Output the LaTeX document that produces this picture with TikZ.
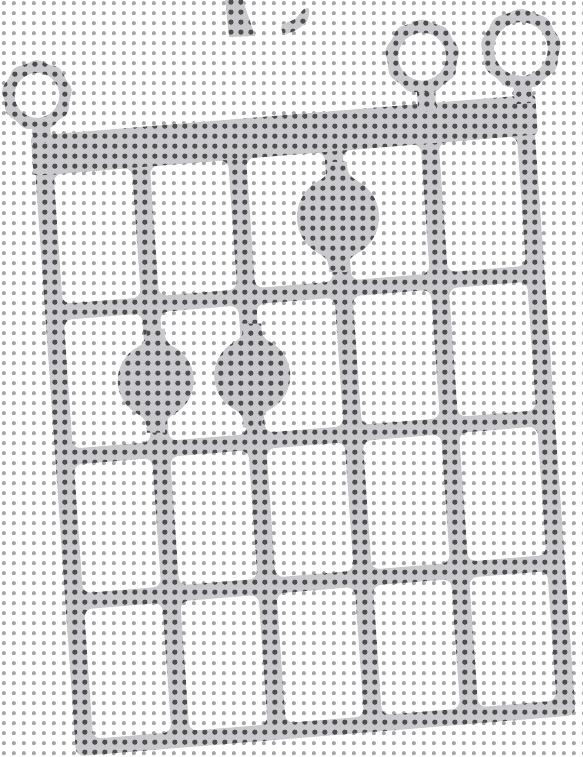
\documentclass[tikz,border=0pt]{standalone}
\usetikzlibrary{patterns}
\pgfdeclarepatternformonly{ltdots}{\pgfqpoint{0pt}{0pt}}{\pgfqpoint{10.3pt}{10.3pt}}{\pgfqpoint{10.3pt}{10.3pt}}{\pgfpathcircle{\pgfqpoint{5.15pt}{5.15pt}}{2.2pt}\pgfusepath{fill}}
\pgfdeclarepatternformonly{dkdots}{\pgfqpoint{0pt}{0pt}}{\pgfqpoint{10.3pt}{10.3pt}}{\pgfqpoint{10.3pt}{10.3pt}}{\pgfpathcircle{\pgfqpoint{5.15pt}{5.15pt}}{2.8pt}\pgfusepath{fill}}
\definecolor{ltdot}{RGB}{165,165,168}
\definecolor{bandc}{RGB}{201,201,205}
\definecolor{dkdot}{RGB}{78,78,80}
\tikzset{
  band/.style={preaction={fill=bandc}, pattern=dkdots, pattern color=dkdot},
  bandeo/.style={preaction={fill=bandc, even odd rule}, pattern=dkdots, pattern color=dkdot, even odd rule},
  pics/vase/.style={code={
    \path[band] (-9,{#1+14}) -- (9,{#1+14})
      .. controls (9,{#1+3}) and ({0.26*#1},{1.0*#1}) .. ({0.5*#1},{0.866*#1})
      arc[start angle=60, end angle=-60, radius=#1]
      .. controls ({0.26*#1},{-1.0*#1}) and (9,{-#1-3}) .. (9,{-#1-14})
      -- (-9,{-#1-14})
      .. controls (-9,{-#1-3}) and ({-0.26*#1},{-1.0*#1}) .. ({-0.5*#1},{-0.866*#1})
      arc[start angle=240, end angle=120, radius=#1]
      .. controls ({-0.26*#1},{1.0*#1}) and (-9,{#1+3}) .. (-9,{#1+14}) -- cycle;
  }},
  pics/ring/.style 2 args={code={
    \path[bandeo] plot[smooth cycle, samples=72, domain=0:355] (\x:{#1+1.1*sin(9*\x)}) (0,0) circle (#2);
  }}
}
\begin{document}
\begin{tikzpicture}[x=1pt,y=1pt]
\useasboundingbox (0,0) rectangle (583,-757);
\fill[white] (0,0) rectangle (583,-757);
\fill[pattern=ltdots, pattern color=ltdot] (0,0) rectangle (583,-757);

% cut-off fragments at the top
\path[band] (225,2) -- (242,2) -- (255,-36) -- (229,-37) -- cycle;
\path[band] plot[smooth cycle] coordinates {(282,-25) (295,-19) (304,-9) (309,-9) (307,-21) (296,-30) (284,-34)};

\begin{scope}[cm={0.99664,0.08194,-0.0698,0.99756,(44,-167)}]
  % grid body with cells cut out
  \path[bandeo, rounded corners=8] (-9,-590) rectangle (492,0)
    \foreach \i in {0,...,4} {
      \foreach \t/\b in {-8/-138, -154/-283, -299/-428, -444/-574} {
        ({96.6*\i+9},\t) rectangle ({96.6*\i+87.6},\b)
      }
    };
  % nut
  \path[band, rounded corners=4] (-11,-8) rectangle (495,32);
  % stems to open-string circles
  \path[band] (-9,24) rectangle (9,46);
  \path[band] (377.4,24) rectangle (395.4,52);
  \path[band] (474,24) rectangle (492,46);
  % open-string circles
  \pic at (-2,72) {ring={34}{22.5}};
  \pic at (385,79) {ring={36}{24}};
  \pic at (484,78.5) {ring={39}{27}};
  % fretted dots
  \pic at (289.8,-74) {vase=41};
  \pic at (96.6,-222) {vase=38};
  \pic at (193.2,-225) {vase=38};
\end{scope}
\end{tikzpicture}
\end{document}
